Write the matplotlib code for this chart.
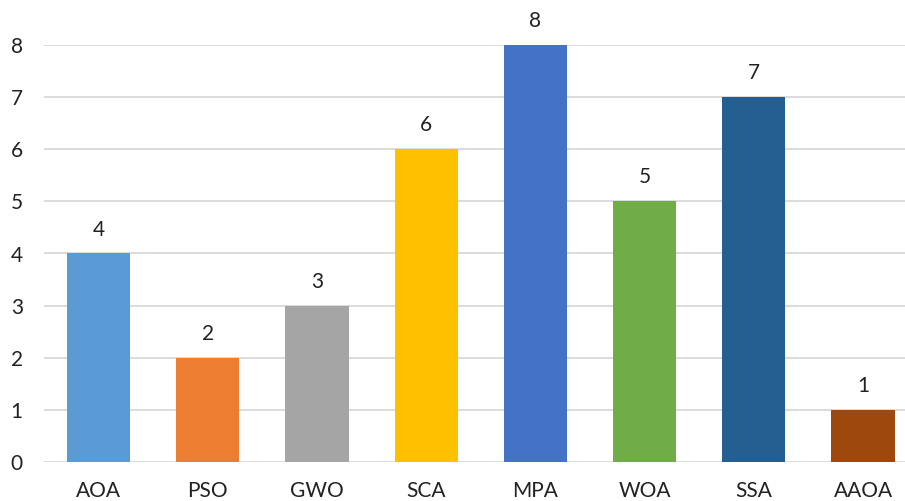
import matplotlib
matplotlib.use("Agg")
import matplotlib.pyplot as plt

categories = ["AOA", "PSO", "GWO", "SCA", "MPA", "WOA", "SSA", "AAOA"]
values = [4, 2, 3, 6, 8, 5, 7, 1]
colors = ["#5B9BD5", "#ED7D31", "#A5A5A5", "#FFC000",
          "#4472C4", "#70AD47", "#255E91", "#9E480E"]
yticks = [0, 1, 2, 3, 4, 5, 6, 7, 8]

plt.rcParams["font.family"] = ["Lato", "DejaVu Sans"]

W, H = 905, 501
fig = plt.figure(figsize=(W / 100, H / 100), dpi=100)
left, right, bottom, top = 44, 905, 39, 456
ax = fig.add_axes([left / W, bottom / H, (right - left) / W, (top - bottom) / H])

x = list(range(len(categories)))
bars = ax.bar(x, values, width=0.58, color=colors, zorder=3)

for xi, v in zip(x, values):
    ax.annotate(str(v), (xi, v), xytext=(0, 10), textcoords="offset points",
                ha="center", va="bottom", fontsize=15, color="#222222",
                annotation_clip=False)

ax.set_xlim(-0.5, -0.5 + (right - left) / 109.2)
ax.set_ylim(0, 8)
ax.set_yticks(yticks)
ax.set_xticks(x)
ax.set_xticklabels(categories)
ax.tick_params(axis="both", length=0, labelsize=15, colors="#222222")
ax.tick_params(axis="x", pad=14)
ax.tick_params(axis="y", pad=24)
for lbl in ax.get_yticklabels():
    lbl.set_horizontalalignment("left")
ax.yaxis.grid(True, color="#D9D9D9", linewidth=1.3, zorder=0)
for s in ax.spines.values():
    s.set_visible(False)

fig.savefig("out.png", dpi=100)
